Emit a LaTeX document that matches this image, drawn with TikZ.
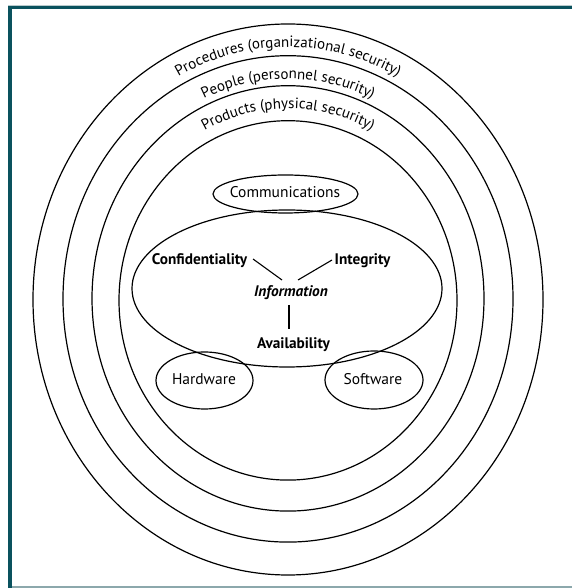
\documentclass[tikz,border=0pt]{standalone}
\usepackage{fontspec}
\setmainfont{PT Sans}
\usetikzlibrary{decorations.text}
\definecolor{framedark}{RGB}{10,82,94}
\definecolor{framelight}{RGB}{140,168,172}
\newcommand{\arcfont}{\fontsize{15}{17}\selectfont}
\begin{document}
\begin{tikzpicture}[x=1pt,y=1pt,
  ring/.style={line width=1.2pt},
  lbl/.style={inner sep=0pt, anchor=base, font=\fontsize{15.5}{18}\selectfont},
  key/.style={inner sep=0pt, anchor=base, font=\fontsize{15.3}{18}\selectfont\bfseries},
  tie/.style={line width=1.1pt},
  arclabel/.style={decorate, decoration={text along path, text align=center, text={#1}}}
]
\useasboundingbox (0,0) rectangle (572,588);
\fill[white] (0,0) rectangle (572,588);

% page frame
\fill[framelight!60] (8,582) rectangle (572,583.4);
\fill[framedark] (8,578.8) rectangle (572,582.2);
\fill[framedark] (8,0) rectangle (12,582.2);
\fill[framelight] (12,0) rectangle (572,1.8);

% security rings
\draw[ring] (288,288.5) ellipse [x radius=255, y radius=275.5];
\draw[ring] (288,289.1) ellipse [x radius=225, y radius=243.2];
\draw[ring] (288,289.6) ellipse [x radius=196, y radius=212.7];
\draw[ring] (288,287.6) ellipse [x radius=169, y radius=179.7];

% ring captions
\path[arclabel={|\arcfont|Procedures (organizational security)}]
  (288,289) ++(135:233 and 252) arc[start angle=135, end angle=45, x radius=233, y radius=252];
\path[arclabel={|\arcfont|People (personnel security)}]
  (288,289) ++(135:203 and 220) arc[start angle=135, end angle=45, x radius=203, y radius=220];
\path[arclabel={|\arcfont|Products (physical security)}]
  (288,289) ++(135:179 and 190.5) arc[start angle=135, end angle=45, x radius=179, y radius=190.5];

% inner ellipses
\draw[ring] (287,299.5) ellipse [x radius=155, y radius=78.5];
\draw[ring] (285.5,394) ellipse [x radius=72.5, y radius=19];
\draw[ring] (204.5,207.5) ellipse [x radius=48.5, y radius=28.5];
\draw[ring] (374,208) ellipse [x radius=49, y radius=29];

% labels
\node[lbl] (comm) at (285,390) {Communications};
\node[key] (conf) at (199.5,323) {Confidentiality};
\node[key] (integ) at (362.5,323) {Integrity};
\node[key, font=\fontsize{15.3}{18}\selectfont\bfseries\itshape] (info) at (291,291) {Information};
\node[key] (avail) at (293.5,239) {Availability};
\node[lbl] (hard) at (204,203) {Hardware};
\node[lbl] (soft) at (373,203) {Software};

% ties to the central label
\coordinate (confEnd) at (253,329);
\coordinate (infoLeft) at (282,308);
\coordinate (integEnd) at (332,328);
\coordinate (infoRight) at (298,308);
\coordinate (infoLow) at (289,283);
\coordinate (availTop) at (289,259);
\draw[tie] (confEnd) -- (infoLeft);
\draw[tie] (integEnd) -- (infoRight);
\draw[tie] (infoLow) -- (availTop);
\end{tikzpicture}
\end{document}
